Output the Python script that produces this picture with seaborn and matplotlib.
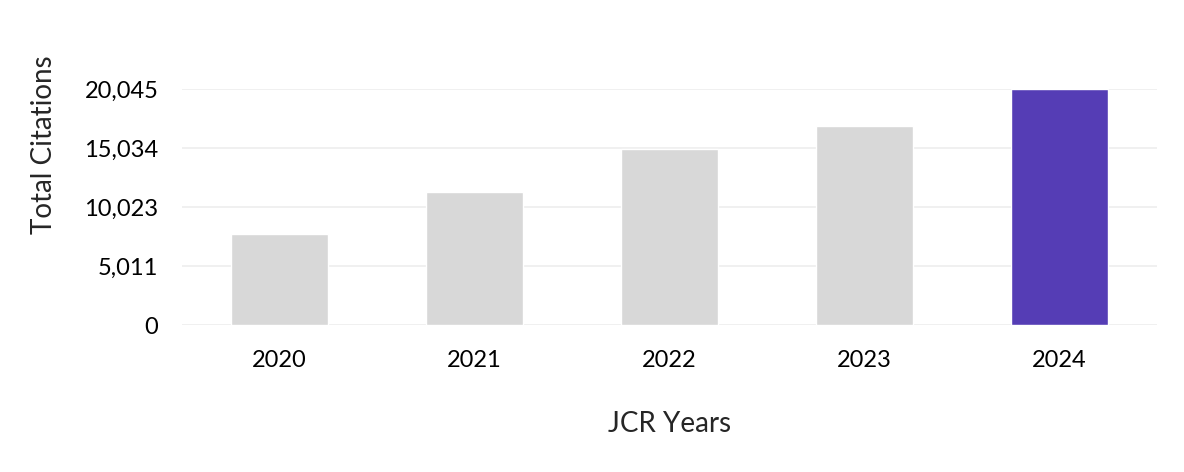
import seaborn as sns
import matplotlib.pyplot as plt
import pandas as pd

years = ["2020", "2021", "2022", "2023", "2024"]
citations = [7750, 11270, 14990, 16895, 20045]
ticks = [0, 5011, 10023, 15034, 20045]
bar_colors = ["#d8d8d8", "#d8d8d8", "#d8d8d8", "#d8d8d8", "#553db5"]

df = pd.DataFrame({"year": years, "citations": citations})

sns.set_style("white")
plt.rcParams["font.family"] = ["Lato", "DejaVu Sans"]

fig = plt.figure(figsize=(11.84, 4.72), dpi=100)
ax = fig.add_axes([0.1537, 0.3114, 0.8233, 0.5])

sns.barplot(data=df, x="year", y="citations", hue="year",
            palette=dict(zip(years, bar_colors)), width=0.5,
            legend=False, saturation=1, ax=ax)

ax.set_ylim(0, 20045)
ax.set_xlim(-0.5, 4.5)
ax.set_yticks(ticks)
ax.set_yticklabels([f"{t:,}" for t in ticks])
ax.yaxis.grid(True, color="#eeeeee", linewidth=1.2)
ax.set_axisbelow(True)
sns.despine(ax=ax, left=True, bottom=True)
ax.tick_params(axis="both", length=0, labelsize=17, colors="black")
ax.tick_params(axis="y", pad=17)
ax.tick_params(axis="x", pad=18)
ax.set_xlabel("JCR Years", fontsize=20, labelpad=29)
ax.set_ylabel("Total Citations", fontsize=20)
ax.yaxis.set_label_coords(-0.128, 0.763)

fig.savefig("out.png", dpi=100)
